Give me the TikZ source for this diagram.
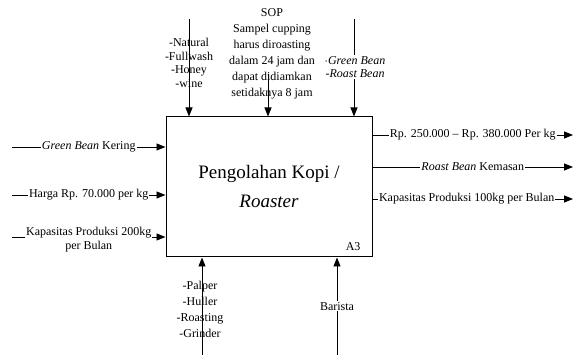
\documentclass[tikz,border=0pt]{standalone}
\usepackage{fontspec}
\setmainfont{Liberation Serif}
\usetikzlibrary{arrows.meta, positioning}

\begin{document}
\begin{tikzpicture}[
  x=1pt, y=-1pt,
  process/.style={draw, line width=1pt, minimum width=206pt, minimum height=140pt,
                  align=center, font=\fontsize{19}{29}\selectfont},
  arrow/.style={-{Triangle[length=9pt, width=7pt]}, line width=0.8pt},
  lbl/.style={font=\fontsize{12}{14}\selectfont, fill=white, inner sep=1pt},
  txt/.style={font=\fontsize{12}{13.5}\selectfont, align=center, inner sep=0pt},
  sop/.style={font=\fontsize{12}{16}\selectfont, align=center, inner sep=0pt}
]
\useasboundingbox (0,0) rectangle (582,355);

% Activity box
\node[process] (box) at (269,187) {Pengolahan Kopi /\\ \textit{Roaster}};
\node[font=\fontsize{12}{14}\selectfont, anchor=south east] (code) at (364,254) {A3};

% Controls (top)
\coordinate (c1) at (189,19);
\coordinate (c2) at (268,74);
\coordinate (c3) at (354,19);
\node[txt] (ctl1) at (189,63) {-Natural\\-Fullwash\\-Honey\\-wine};
\node[sop] (ctl2) at (272,54) {SOP\\Sampel cupping\\harus diroasting\\dalam 24 jam dan\\dapat didiamkan\\setidaknya 8 jam};
\draw[arrow] (c1) -- (c1 |- box.north);
\draw[arrow] (c2) -- (c2 |- box.north);
\draw[arrow] (c3) -- (c3 |- box.north);
\node[txt, fill=white, inner sep=1pt] (ctl3) at (355,67) {\textit{$\cdot$Green Bean}\\-\textit{Roast Bean}};

% Inputs (left)
\coordinate (i1) at (12,147);
\coordinate (i2) at (12,195);
\coordinate (i3) at (12,237);
\draw[arrow] (i1) -- (i1 -| box.west) node[lbl, midway] (in1) {\textit{Green Bean} Kering};
\draw[arrow] (i2) -- (i2 -| box.west) node[lbl, midway] (in2) {Harga Rp. 70.000 per kg};
\draw[arrow] (i3) -- (i3 -| box.west) node[lbl, midway, align=center, yshift=-3pt] (in3) {Kapasitas Produksi 200kg\\per Bulan};

% Outputs (right)
\coordinate (o1) at (573,135);
\coordinate (o2) at (573,167);
\coordinate (o3) at (573,199);
\draw[arrow] (o1 -| box.east) -- (o1) node[lbl, midway] (out1) {Rp. 250.000 -- Rp. 380.000 Per kg};
\draw[arrow] (o2 -| box.east) -- (o2) node[lbl, midway] (out2) {\textit{Roast Bean} Kemasan};
\draw[arrow] (o3 -| box.east) -- (o3) node[lbl, pos=0.47] (out3) {Kapasitas Produksi 100kg per Bulan};

% Mechanisms (bottom)
\node[txt, font=\fontsize{12}{16}\selectfont] (mec1) at (200,309) {-Palper\\-Huller\\-Roasting\\-Grinder};
\coordinate (m1) at (202,355);
\coordinate (m2) at (337,355);
\draw[arrow] (m1) -- (m1 |- box.south);
\draw[arrow] (m2) -- (m2 |- box.south) node[lbl, pos=0.5] (mec2) {Barista};

\end{tikzpicture}
\end{document}
